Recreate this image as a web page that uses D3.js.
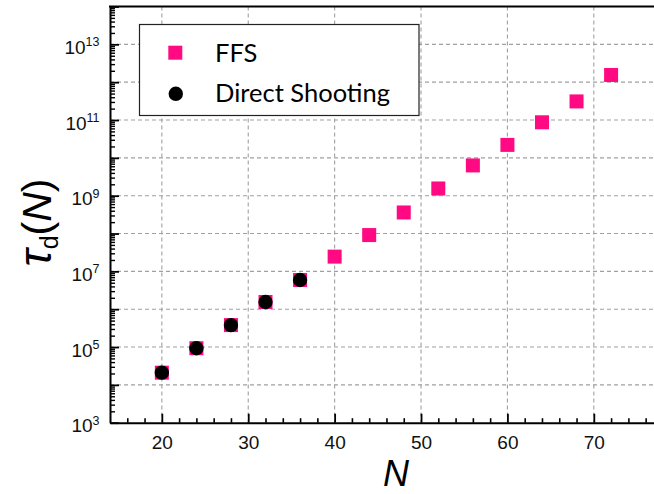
<!DOCTYPE html>
<html>
<head>
<meta charset="utf-8">
<script src="https://cdn.jsdelivr.net/npm/d3@7"></script>
<style>
  html, body { margin: 0; padding: 0; background: #fff; }
  svg { display: block; }
  .arial { font-family: "Liberation Sans", Arial, Helvetica, sans-serif; }
</style>
</head>
<body>
<svg id="chart" width="654" height="494"></svg>
<script>
// ---- data ----
const seriesNames = ["FFS", "Direct Shooting"];
const ffsN   = [20, 24, 28, 32, 36, 40, 44, 48, 52, 56, 60, 64, 68, 72];
const ffsTau = [2.1e4, 9.3e4, 3.8e5, 1.55e6, 5.9e6, 2.45e7, 9.1e7, 3.6e8, 1.55e9, 6.3e9, 2.2e10, 8.7e10, 3.1e11, 1.55e12];
const dsN    = [20, 24, 28, 32, 36];
const dsTau  = [2.1e4, 9.3e4, 3.8e5, 1.55e6, 5.9e6];
const xTickValues = [20, 30, 40, 50, 60, 70];
const yLabelExps  = [3, 5, 7, 9, 11, 13];

(function () {
// ---- layout ----
const pL = 110, pR = 654.3, pT = 6.5, pB = 422.7;
const svg = d3.select("#chart");
const x = d3.scaleLinear().domain([14, 77]).range([pL, pR]);
const y = d3.scaleLog().domain([1e3, 1e14]).range([pB, pT]);

const gridColor = "#a0a0a0";
const pink = "#ff0a82";

// grid
const decades = d3.range(4, 14).map(e => Math.pow(10, e));
svg.append("g").selectAll("line").data(xTickValues).join("line")
  .attr("x1", d => x(d)).attr("x2", d => x(d))
  .attr("y1", pT).attr("y2", pB)
  .attr("stroke", gridColor).attr("stroke-width", 1.1).attr("stroke-dasharray", "4,3");
svg.append("g").selectAll("line").data(decades).join("line")
  .attr("x1", pL).attr("x2", pR)
  .attr("y1", d => y(d)).attr("y2", d => y(d))
  .attr("stroke", gridColor).attr("stroke-width", 1.1).attr("stroke-dasharray", "4,3");

// minor ticks
const xMinor = d3.range(16, 77, 2).filter(v => v % 10 !== 0);
const xMinorAxis = d3.axisBottom(x).tickValues(xMinor).tickSizeInner(-4.5).tickSizeOuter(0).tickFormat(() => "");
const gxm = svg.append("g").attr("transform", `translate(0,${pB})`).call(xMinorAxis);
gxm.select(".domain").remove();
gxm.selectAll("line").attr("stroke", "#000").attr("stroke-width", 1.6);

const yMinor = [];
for (let e = 3; e < 14; e++) for (let m = 2; m <= 9; m++) yMinor.push(m * Math.pow(10, e));
const yMinorAxis = d3.axisLeft(y).tickValues(yMinor).tickSizeInner(-5).tickSizeOuter(0).tickFormat(() => "");
const gym = svg.append("g").attr("transform", `translate(${pL},0)`).call(yMinorAxis);
gym.select(".domain").remove();
gym.selectAll("line").attr("stroke", "#000").attr("stroke-width", 1.4);

// major axes
const xAxis = d3.axisBottom(x).tickValues(xTickValues).tickSizeInner(-9).tickSizeOuter(0).tickPadding(0).tickFormat(d3.format("d"));
const gx = svg.append("g").attr("transform", `translate(0,${pB})`).call(xAxis);
gx.attr("font-family", null).attr("font-size", null);
gx.select(".domain").attr("stroke", "#000").attr("stroke-width", 2);
gx.selectAll("line").attr("stroke", "#000").attr("stroke-width", 1.8);
gx.selectAll("text").attr("y", 26).attr("dy", 0).attr("class", "arial")
  .style("font-size", "19px").attr("fill", "#111");

const yMajor = d3.range(3, 15).map(e => Math.pow(10, e));
const yAxis = d3.axisLeft(y).tickValues(yMajor).tickSizeInner(-9).tickSizeOuter(0).tickPadding(11).tickFormat(() => "");
const gy = svg.append("g").attr("transform", `translate(${pL},0)`).call(yAxis);
gy.attr("font-family", null).attr("font-size", null);
gy.select(".domain").attr("stroke", "#000").attr("stroke-width", 2);
gy.selectAll("line").attr("stroke", "#000").attr("stroke-width", 1.8);
gy.selectAll(".tick text").each(function(d) {
  const e = Math.round(Math.log10(d));
  const t = d3.select(this);
  if (!yLabelExps.includes(e)) { t.remove(); return; }
  t.attr("dy", 0).attr("y", 9).attr("x", -10.5).attr("class", "arial")
   .style("font-size", "19px").attr("fill", "#111");
  t.text(null);
  t.append("tspan").text("10");
  t.append("tspan").style("font-size", "12.5px").attr("dy", -7.6).text(String(e));
});

// top frame line
svg.append("line").attr("x1", pL - 1).attr("x2", pR).attr("y1", pT).attr("y2", pT)
  .attr("stroke", "#000").attr("stroke-width", 2);

// data marks
const sq = 14;
svg.append("g").selectAll("rect").data(ffsN.map((n, i) => [n, ffsTau[i]])).join("rect")
  .attr("x", d => x(d[0]) - sq / 2).attr("y", d => y(d[1]) - sq / 2)
  .attr("width", sq).attr("height", sq).attr("fill", pink);
svg.append("g").selectAll("circle").data(dsN.map((n, i) => [n, dsTau[i]])).join("circle")
  .attr("cx", d => x(d[0])).attr("cy", d => y(d[1])).attr("r", 7.2).attr("fill", "#000");

// legend
const lg = svg.append("g");
lg.append("rect").attr("x", 139.5).attr("y", 24.5).attr("width", 279.5).attr("height", 91)
  .attr("fill", "#fff").attr("stroke", "#222").attr("stroke-width", 1.2);
lg.append("rect").attr("x", 175.3 - sq / 2).attr("y", 52.7 - sq / 2).attr("width", sq).attr("height", sq).attr("fill", pink);
lg.append("circle").attr("cx", 175.8).attr("cy", 93.8).attr("r", 7.2).attr("fill", "#000");
lg.append("text").attr("x", 215).attr("y", 61.7).text(seriesNames[0])
  .style("font-family", "Lato, sans-serif").style("font-size", "25.5px").attr("fill", "#000");
lg.append("text").attr("x", 215).attr("y", 101.7).text(seriesNames[1])
  .style("font-family", "Lato, sans-serif").style("font-size", "25.5px").attr("fill", "#000");

// axis titles
svg.append("text").attr("x", 396).attr("y", 485.5).attr("text-anchor", "middle").attr("class", "arial")
  .style("font-size", "36px").style("font-style", "italic")
  .attr("fill", "#000").text("N");

const yt = svg.append("text").attr("transform", "translate(51,222.5) rotate(-90)").attr("text-anchor", "middle")
  .attr("class", "arial").style("font-size", "41px").attr("fill", "#000");
yt.append("tspan").style("font-style", "italic").style("font-size", "46px").text("τ");
yt.append("tspan").style("font-size", "25px").attr("dy", 7).text("d");
yt.append("tspan").attr("dy", -7).text("(");
yt.append("tspan").style("font-style", "italic").text("N");
yt.append("tspan").text(")");
})();
</script>
</body>
</html>
